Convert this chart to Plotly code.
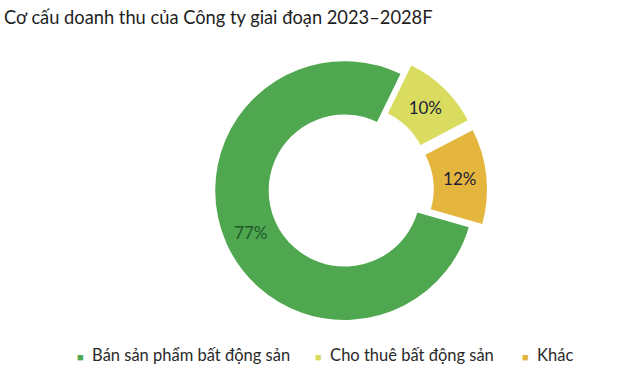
import plotly.graph_objects as go

# Revenue structure 2023–2028F (percent of total)
labels = ["Bán sản phẩm bất động sản", "Cho thuê bất động sản", "Khác"]
values = [77, 10, 12]
colors = ["#4fa74f", "#d9dc5e", "#e4b63e"]
text_colors = ["#1d5a28", "#1c1c3a", "#1c1c3a"]
pulls = [0, 0.1, 0.1]

title_text = "Cơ cấu doanh thu của Công ty giai đoạn 2023–2028F"

fig = go.Figure(
    go.Pie(
        labels=labels,
        values=values,
        hole=0.575,
        sort=False,
        direction="clockwise",
        rotation=106,
        pull=pulls,
        marker=dict(colors=colors, line=dict(color="white", width=2)),
        texttemplate="%{value}%",
        textposition="inside",
        insidetextorientation="horizontal",
        textfont=dict(family="Lato", size=17, color=text_colors),
        showlegend=False,
        domain=dict(x=[0.314, 0.763], y=[0.0997, 0.873]),
    )
)

# Title
fig.add_annotation(
    text=title_text, xref="paper", yref="paper", x=0.003, y=0.955,
    xanchor="left", yanchor="middle", showarrow=False,
    font=dict(family="Lato", size=18.3, color="#1e1e1e"),
)

# Horizontal legend row built from the series labels and colours
legend_x = [0.117, 0.489, 0.812]
for lab, col, lx in zip(labels, colors, legend_x):
    fig.add_annotation(
        text=f'<span style="color:{col};font-size:11px">■</span>  {lab}',
        xref="paper", yref="paper", x=lx, y=0.043,
        xanchor="left", yanchor="middle", showarrow=False,
        font=dict(family="Lato", size=16.5, color="#2a2a2a"),
    )

fig.update_layout(
    width=640, height=371,
    margin=dict(l=0, r=0, t=0, b=0),
    paper_bgcolor="white", plot_bgcolor="white",
)

fig.write_html("out.html")
